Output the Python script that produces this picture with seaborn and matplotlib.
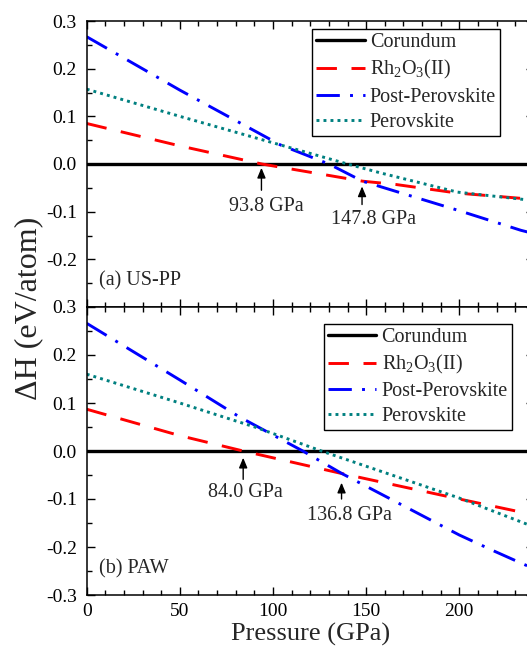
import matplotlib
matplotlib.use("Agg")
import matplotlib.pyplot as plt
import seaborn as sns
import pandas as pd
from matplotlib.ticker import MultipleLocator, FuncFormatter

# ---------------- data ----------------
# (a) US-PP
p_cor_a = [0, 240]
dh_cor_a = [0.0, 0.0]
p_rh_a = [0, 50, 94, 148, 166, 199, 233, 240]
dh_rh_a = [0.085, 0.038, 0.0, -0.036, -0.043, -0.061, -0.072, -0.074]
p_pp_a = [0, 50, 104, 130, 148, 200, 233, 240]
dh_pp_a = [0.267, 0.155, 0.040, 0.0, -0.036, -0.098, -0.139, -0.146]
p_pv_a = [0, 50, 104, 140, 158, 199, 236, 240]
dh_pv_a = [0.157, 0.100, 0.040, 0.0, -0.019, -0.059, -0.075, -0.077]

# (b) PAW
p_cor_b = [0, 240]
dh_cor_b = [0.0, 0.0]
p_rh_b = [0, 50, 84, 137, 200, 234, 240]
dh_rh_b = [0.087, 0.032, 0.0, -0.047, -0.100, -0.128, -0.132]
p_pp_b = [0, 50, 82, 116, 137, 200, 219, 234, 240]
dh_pp_b = [0.266, 0.148, 0.071, 0.0, -0.047, -0.175, -0.209, -0.235, -0.245]
p_pv_b = [0, 50, 91, 126, 200, 234, 240]
dh_pv_b = [0.160, 0.100, 0.049, 0.0, -0.098, -0.149, -0.158]

series_names = ["Corundum", r"Rh$_\mathregular{2}$O$_\mathregular{3}$(II)",
                "Post-Perovskite", "Perovskite"]
transitions_a = [93.8, 147.8]
transitions_b = [84.0, 136.8]
panel_labels = ["(a) US-PP", "(b) PAW"]

# ---------------- style ----------------
sns.set_style("ticks")
plt.rcParams["font.family"] = ["Liberation Serif", "DejaVu Serif"]
plt.rcParams["mathtext.fontset"] = "custom"
plt.rcParams["mathtext.rm"] = "Liberation Serif"
plt.rcParams["mathtext.it"] = "Liberation Serif:italic"
plt.rcParams["axes.unicode_minus"] = False
plt.rcParams["axes.linewidth"] = 1.1

colors = ["black", "#FF0000", "#0000FF", "#008080"]
styles = ["-", (0, (7, 5)), (0, (8, 3.5, 1, 3.5)), (0, (1, 1.4))]
lw = 2.1

fig = plt.figure(figsize=(5.27, 6.55), dpi=100)
H = 655.0
W = 527.0
left = 86.7 / W
width = (533.8 - 86.7) / W
ax1 = fig.add_axes([left, 1 - 307 / H, width, (307 - 21) / H])
ax2 = fig.add_axes([left, 1 - 595 / H, width, (595 - 307) / H], sharex=ax1)

data_a = [(p_cor_a, dh_cor_a), (p_rh_a, dh_rh_a), (p_pp_a, dh_pp_a), (p_pv_a, dh_pv_a)]
data_b = [(p_cor_b, dh_cor_b), (p_rh_b, dh_rh_b), (p_pp_b, dh_pp_b), (p_pv_b, dh_pv_b)]

for ax, data in [(ax1, data_a), (ax2, data_b)]:
    for (px, py), name, c, ls in zip(data, series_names, colors, styles):
        df = pd.DataFrame({"Pressure": px, "dH": py})
        sns.lineplot(data=df, x="Pressure", y="dH", ax=ax, color=c,
                     linestyle=ls, linewidth=(2.4 if name == "Corundum" else lw),
                     label=name, legend=False)

for ax in (ax1, ax2):
    ax.set_xlim(0, 240)
    ax.set_ylim(-0.3, 0.3)
    ax.xaxis.set_major_locator(MultipleLocator(50))
    ax.xaxis.set_minor_locator(MultipleLocator(10))
    ax.yaxis.set_major_locator(MultipleLocator(0.1))
    ax.yaxis.set_minor_locator(MultipleLocator(0.05))
    ax.tick_params(which="both", direction="in", top=True, right=True,
                   width=1.0, labelsize=14, colors="black")
    ax.tick_params(which="major", length=6)
    ax.tick_params(which="minor", length=3.5)
    ax.tick_params(axis="y", pad=7)
    ax.tick_params(axis="x", pad=6)
    ax.set_ylabel("")
    for s in ax.spines.values():
        s.set_color("black")
        s.set_linewidth(1.1)

ax1.yaxis.set_major_formatter(FuncFormatter(lambda v, p: "" if v < -0.25 else f"{v:.1f}"))
ax2.yaxis.set_major_formatter(FuncFormatter(lambda v, p: f"{v:.1f}"))
ax1.tick_params(axis="x", labelbottom=False)
ax1.set_xlabel("")
ax2.set_xlabel("Pressure (GPa)", fontsize=19, labelpad=2)
fig.text(0.055, 1 - 308 / H, "ΔH (eV/atom)", rotation=90, ha="center", va="center",
         fontsize=23)

leg_kw = dict(loc="upper left", fontsize=14.5, frameon=True, fancybox=False,
              edgecolor="black", framealpha=1, borderaxespad=0, borderpad=0.2,
              handlelength=2.4, handletextpad=0.25, labelspacing=0.3)
l1 = ax1.legend(bbox_to_anchor=(0.5046, 0.971), **leg_kw)
l2 = ax2.legend(bbox_to_anchor=(0.531, 0.941), **leg_kw)
for l in (l1, l2):
    l.get_frame().set_linewidth(1.0)

arrow_kw = dict(arrowstyle="-|>,head_length=0.6,head_width=0.25", color="black",
                lw=1.0, shrinkA=0, shrinkB=0, mutation_scale=10)

# panel (a) annotations
ax1.annotate("", xy=(transitions_a[0], -0.008), xytext=(transitions_a[0], -0.055), arrowprops=arrow_kw)
ax1.text(96.6, -0.089, f"{transitions_a[0]:.1f} GPa", ha="center", va="center", fontsize=14.5)
ax1.annotate("", xy=(transitions_a[1], -0.047), xytext=(transitions_a[1], -0.085), arrowprops=arrow_kw)
ax1.text(153.7, -0.117, f"{transitions_a[1]:.1f} GPa", ha="center", va="center", fontsize=14.5)
ax1.text(6.8, -0.246, panel_labels[0], ha="left", va="center", fontsize=14.5)

# panel (b) annotations
ax2.annotate("", xy=(transitions_b[0], -0.014), xytext=(transitions_b[0], -0.059), arrowprops=arrow_kw)
ax2.text(85.0, -0.086, f"{transitions_b[0]:.1f} GPa", ha="center", va="center", fontsize=14.5)
ax2.annotate("", xy=(transitions_b[1], -0.066), xytext=(transitions_b[1], -0.100), arrowprops=arrow_kw)
ax2.text(141.3, -0.135, f"{transitions_b[1]:.1f} GPa", ha="center", va="center", fontsize=14.5)
ax2.text(6.8, -0.246, panel_labels[1], ha="left", va="center", fontsize=14.5)

fig.savefig("out.png", dpi=100)
